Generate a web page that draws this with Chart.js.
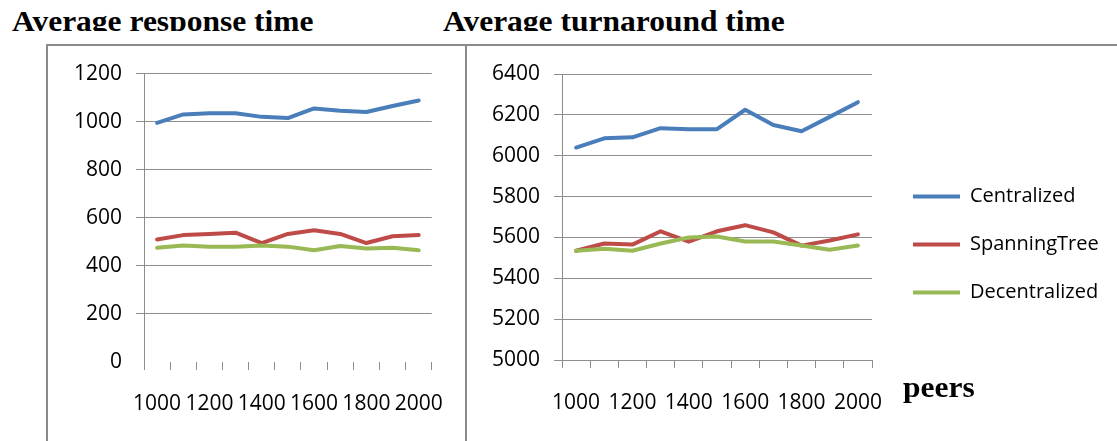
<!DOCTYPE html>
<html>
<head>
<meta charset="utf-8">
<script src="https://cdn.jsdelivr.net/npm/chart.js@4"></script>
<style>
  html, body { margin: 0; padding: 0; background: #fff; }
  body { width: 1117px; height: 441px; position: relative; overflow: hidden; }
  .title { position: absolute; top: 0; height: 31px; overflow: hidden; white-space: nowrap;
           font: bold 30px "Liberation Serif", serif; line-height: 36px; color: #000;
           transform: scaleX(1.05); transform-origin: left top; }
  .frame { position: absolute; background: #8a8a8a; }
  canvas { position: absolute; }
</style>
</head>
<body>
<div class="title" style="left:12px; top:3px; height:28px;">Average response time</div>
<div class="title" style="left:443px; top:3px; height:28px;">Average turnaround time</div>

<div class="frame" style="left:46px; top:44px; width:1071px; height:2px;"></div>
<div class="frame" style="left:46px; top:44px; width:2px; height:397px;"></div>
<div class="frame" style="left:465px; top:44px; width:2px; height:397px;"></div>

<canvas id="responseChart" width="416" height="394" style="left:49px; top:47px;"></canvas>
<canvas id="turnaroundChart" width="680" height="368" style="left:468px; top:47px;"></canvas>

<div class="title" style="left:903px; top:369px; height:45px;">peers</div>

<script>
const categories = ['1000', '1100', '1200', '1300', '1400', '1500', '1600', '1700', '1800', '1900', '2000'];
const tickLabels = ['1000', '1200', '1400', '1600', '1800', '2000'];

const responseCentralized = [995, 1030, 1035, 1035, 1020, 1015, 1055, 1045, 1040, 1065, 1088];
const responseSpanningTree = [510, 528, 533, 538, 495, 533, 548, 533, 495, 523, 528];
const responseDecentralized = [475, 485, 480, 480, 485, 480, 465, 483, 472, 475, 465];

const turnaroundCentralized = [6040, 6085, 6090, 6135, 6130, 6130, 6225, 6150, 6120, 6190, 6262];
const turnaroundSpanningTree = [5535, 5570, 5565, 5630, 5580, 5630, 5660, 5625, 5560, 5585, 5615];
const turnaroundDecentralized = [5535, 5545, 5535, 5570, 5600, 5605, 5580, 5580, 5560, 5540, 5560];

const responseRange = [0, 1200, 200];
const turnaroundRange = [5000, 6400, 200];

const seriesNames = ['Centralized', 'SpanningTree', 'Decentralized'];
const seriesColors = ['#4a7ebb', '#be4b48', '#98b954'];

const gridColor = '#8e8e8e';
const tickFont = { family: 'Open Sans', size: 21 };

Chart.defaults.color = '#000';
Chart.defaults.font.family = 'Open Sans';

function makeDatasets(values) {
    return values.map((data, i) => ({
        label: seriesNames[i],
        data,
        borderColor: seriesColors[i],
        backgroundColor: seriesColors[i],
        borderWidth: 4,
        borderCapStyle: 'round',
        borderJoinStyle: 'round',
        pointRadius: 0,
        tension: 0,
        order: 3 - i,
    }));
}

function makeChart(id, values, range, opts) {
    const [min, max, step] = range;
    const scales = {
        x: {
            offset: true,
            border: { display: false },
            grid: { offset: true, drawOnChartArea: false, drawTicks: true, tickLength: 8, color: gridColor },
            ticks: {
                font: tickFont, padding: opts.xPad, autoSkip: false, maxRotation: 0,
                callback: (v, i) => tickLabels.includes(categories[i]) ? categories[i] : '',
            },
            afterFit: s => { s.height = opts.xHeight; },
        },
        y: {
            min, max,
            border: { display: true, color: gridColor, width: 1 },
            grid: {
                tickLength: 8,
                color: c => (opts.hideBase && c.tick && c.tick.value === min) ? 'rgba(0,0,0,0)' : gridColor,
            },
            ticks: { stepSize: step, font: tickFont, padding: 14, callback: v => String(v) },
            afterFit: s => { s.width = opts.yWidth; },
        },
    };
    if (opts.legend) {
        // empty spacer between plot and legend
        scales.gap = {
            type: 'linear', position: 'right', display: true,
            grid: { display: false }, border: { display: false }, ticks: { display: false },
            afterFit: s => { s.width = opts.gap; },
        };
    }
    new Chart(document.getElementById(id), {
        type: 'line',
        data: { labels: categories, datasets: makeDatasets(values) },
        options: {
            responsive: false,
            animation: false,
            layout: { padding: opts.padding },
            plugins: {
                tooltip: { enabled: false },
                legend: opts.legend ? {
                    display: true,
                    position: 'right',
                    maxWidth: 220,
                    labels: {
                        usePointStyle: true,
                        pointStyle: 'line',
                        pointStyleWidth: 47,
                        padding: 28,
                        font: { family: 'Open Sans', size: 20 },
                        color: '#000',
                        sort: (a, b) => a.datasetIndex - b.datasetIndex,
                    },
                } : { display: false },
            },
            scales,
        },
    });
}

makeChart('responseChart',
    [responseCentralized, responseSpanningTree, responseDecentralized],
    responseRange,
    { xPad: 21, xHeight: 79, yWidth: 95, hideBase: true, legend: false,
      padding: { left: 0, right: 28, top: 26, bottom: 0 } });

makeChart('turnaroundChart',
    [turnaroundCentralized, turnaroundSpanningTree, turnaroundDecentralized],
    turnaroundRange,
    { xPad: 22, xHeight: 55, yWidth: 94, hideBase: false, legend: true, gap: 13,
      padding: { left: 0, right: 43, top: 27, bottom: 0 } });
</script>
</body>
</html>
